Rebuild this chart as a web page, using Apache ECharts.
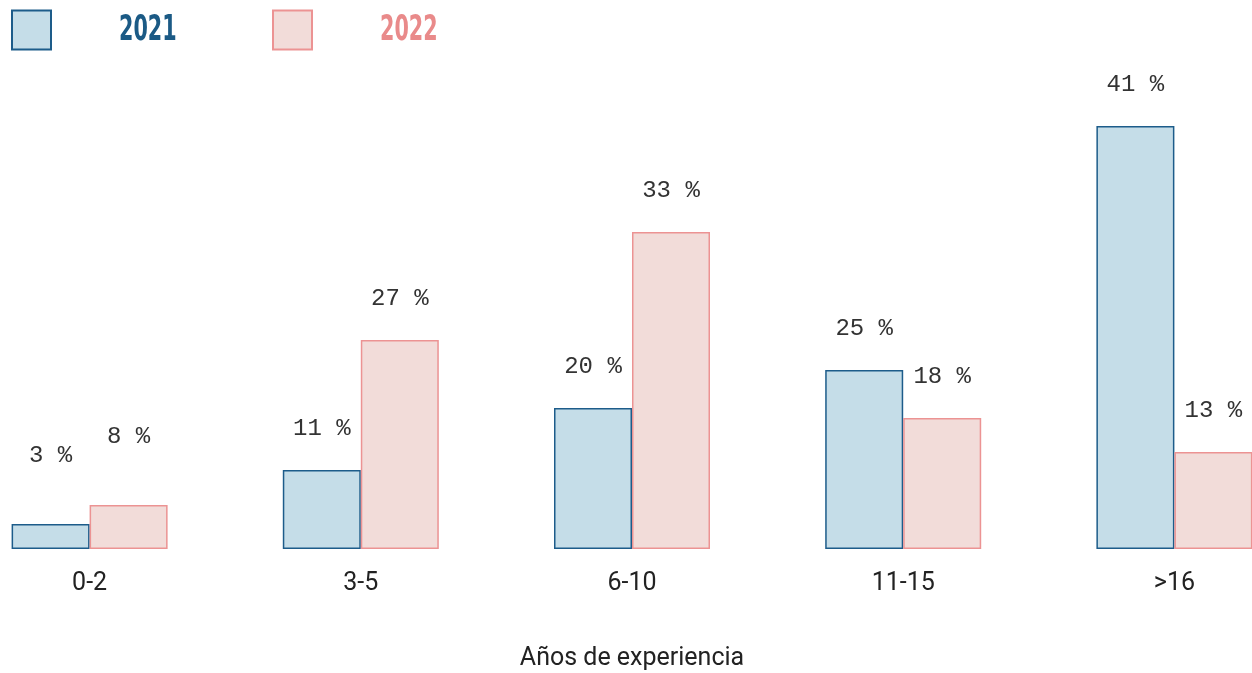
<!DOCTYPE html>
<html>
<head>
<meta charset="utf-8">
<title>Años de experiencia</title>
<script src="https://cdn.jsdelivr.net/npm/echarts@6/dist/echarts.min.js"></script>
<style>
  html, body { margin: 0; padding: 0; background: #fff; overflow: hidden; }
  /* las categorías son más anchas que la ventana: el lienzo se sale por los lados */
  #chart { position: absolute; left: -46px; top: 0; width: 1356px; height: 673px; }
</style>
</head>
<body>
<div id="chart"></div>
<script>
// categorías del eje x
const categories = ["0-2", "3-5", "6-10", "11-15", ">16"];
const seriesNames = ["2021", "2022"];
// altura de las barras tal como se ven en la imagen
const bars2021 = [2.5, 7.9, 14.1, 17.9, 42.3];
const bars2022 = [4.4, 20.9, 31.7, 13.1, 9.7];
// porcentajes escritos encima de cada barra
const labels2021 = [3, 11, 20, 25, 41];
const labels2022 = [8, 27, 33, 18, 13];

const shift = 46; // desplazamiento del lienzo
const blue = { fill: "#c5dde8", line: "#1d5c8a", text: "#1b5a85" };
const pink = { fill: "#f2dcd9", line: "#ec9393", text: "#e98a8a" };

function makeSeries(name, values, labels, c) {
  return {
    name: name,
    type: "bar",
    barWidth: 78,
    barGap: "0%",
    data: values.map((v, i) => ({
      value: v,
      label: { distance: i === 0 ? 56 : 29 },
    })),
    itemStyle: { color: c.fill, borderColor: c.line, borderWidth: 1.5 },
    label: {
      show: true,
      position: "top",
      fontFamily: "Liberation Mono",
      fontSize: 24,
      color: "#333",
      formatter: (p) => labels[p.dataIndex] + " %",
    },
  };
}

// leyenda: sólo el cuadrado, el texto va en graphic para poder estrecharlo
function makeLegend(name, left) {
  return {
    left: left + shift,
    top: 9.5,
    padding: 0,
    itemWidth: 39,
    itemHeight: 39,
    icon: "rect",
    data: [name],
    selectedMode: false,
    formatter: () => "",
  };
}

function legendText(name, x, c) {
  return {
    type: "text",
    x: x + shift,
    y: 31,
    scaleX: 0.64,
    style: {
      text: name,
      fill: c.text,
      fontFamily: "DejaVu Sans Condensed",
      fontWeight: "bold",
      fontSize: 36,
      verticalAlign: "middle",
    },
  };
}

const chart = echarts.init(document.getElementById("chart"));
chart.setOption({
  animation: false,
  legend: [makeLegend(seriesNames[0], 11), makeLegend(seriesNames[1], 272)],
  graphic: [
    legendText(seriesNames[0], 119, blue),
    legendText(seriesNames[1], 380, pink),
  ],
  grid: { left: 0, right: 0, top: 49, bottom: 124, outerBoundsMode: "none" },
  xAxis: {
    type: "category",
    data: categories,
    axisLine: { show: false },
    axisTick: { show: false },
    axisLabel: {
      margin: 22,
      fontFamily: "Roboto",
      fontSize: 25,
      color: "#222",
    },
    name: "Años de experiencia",
    nameLocation: "middle",
    nameGap: 97,
    nameTextStyle: { fontFamily: "Roboto", fontSize: 25, color: "#222" },
  },
  yAxis: { type: "value", min: 0, max: 50, show: false, splitLine: { show: false } },
  series: [
    makeSeries(seriesNames[0], bars2021, labels2021, blue),
    makeSeries(seriesNames[1], bars2022, labels2022, pink),
  ],
});
</script>
</body>
</html>
